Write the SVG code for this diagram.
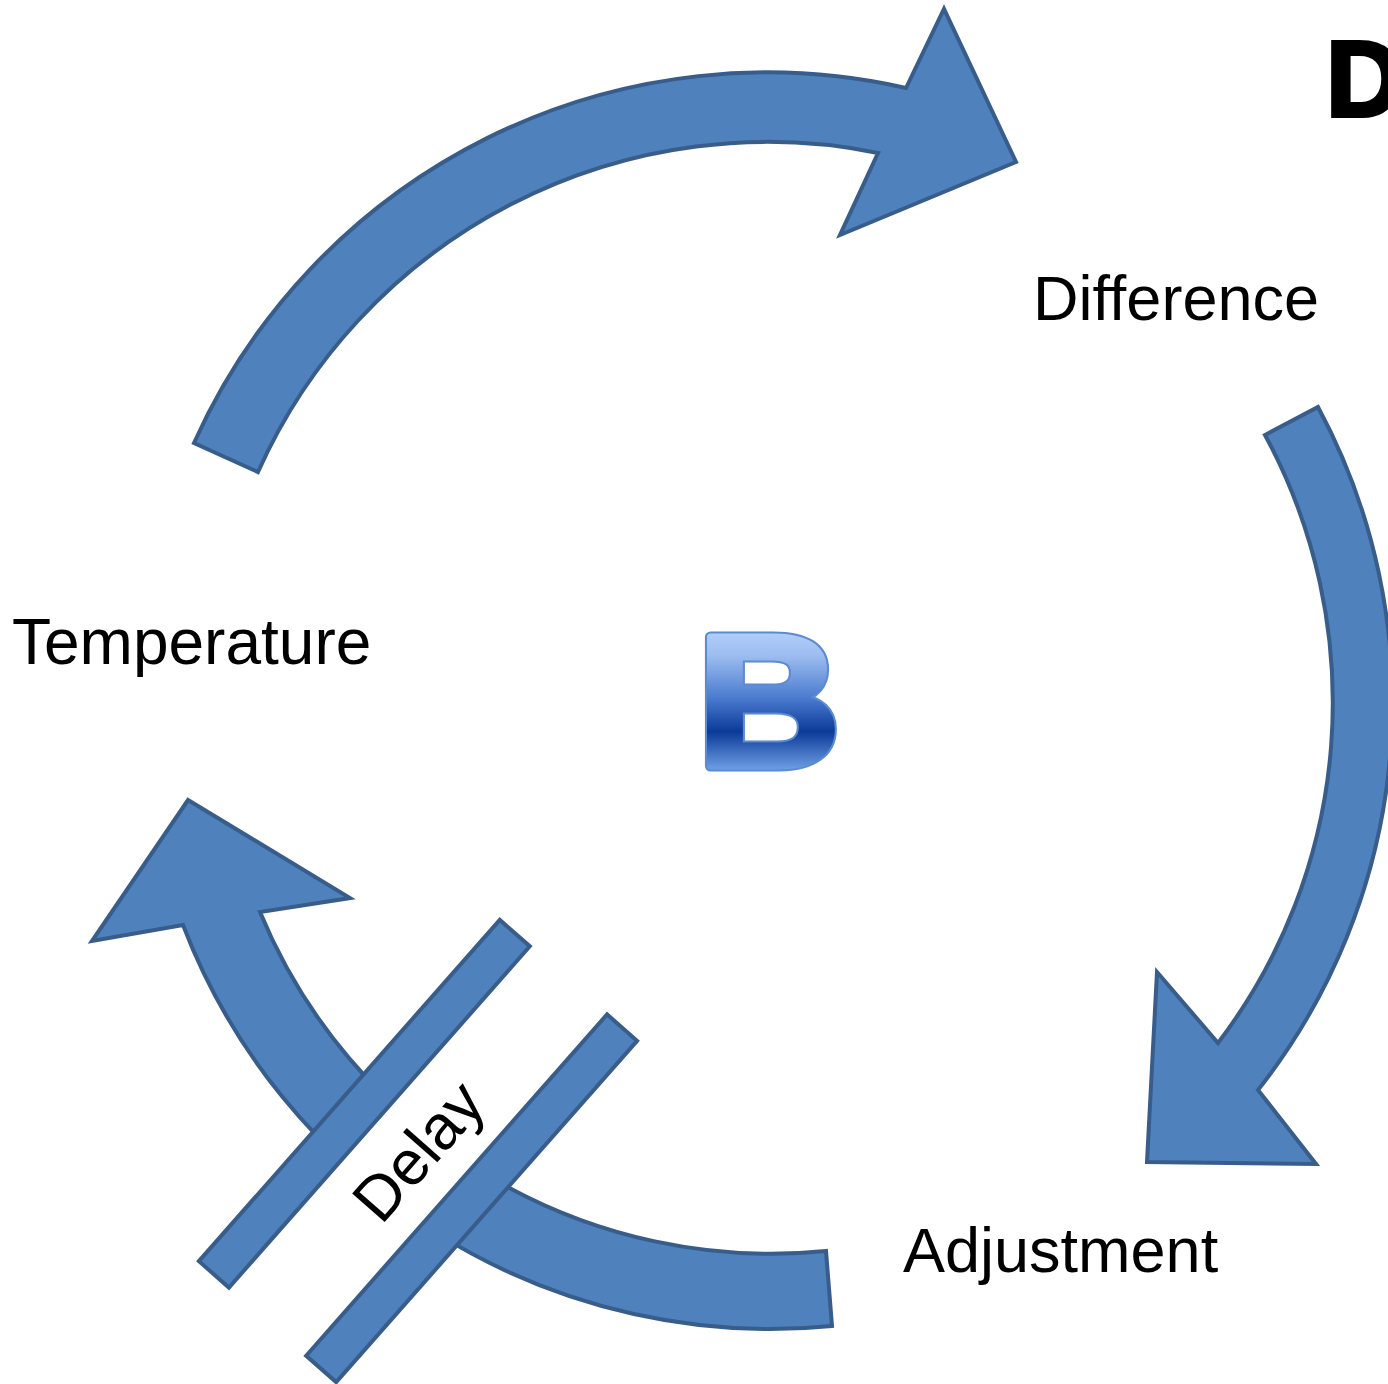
<svg xmlns="http://www.w3.org/2000/svg" width="1388" height="1384" viewBox="0 0 1388 1384">
<defs>
<style>
.arrow{fill:#4f81bd;stroke:#385d8a;stroke-width:4;stroke-linejoin:miter}
.lbl{font-family:"Liberation Sans",Arial,sans-serif;font-size:63px;fill:#000}
.bigb{font-family:"Liberation Sans",Arial,sans-serif;font-weight:bold;font-size:188px;stroke-linejoin:round}
</style>
<linearGradient id="bgrad" gradientUnits="userSpaceOnUse" x1="0" y1="628" x2="0" y2="768">
<stop offset="0" stop-color="#b6d0fb"/>
<stop offset="0.2" stop-color="#9cbcf0"/>
<stop offset="0.5" stop-color="#4a7bcf"/>
<stop offset="0.74" stop-color="#0b3a99"/>
<stop offset="1" stop-color="#6a9ae0"/>
</linearGradient>
</defs>
<rect width="1388" height="1384" fill="#fff"/>
<g id="connectors">
<path id="arrow-top" class="arrow" d="M194,443 A628,628 0 0 1 906,88 L944,9 L1016,162 L840,235 L878,153 A558,558 0 0 0 258,472 Z"/>
<path id="arrow-right" class="arrow" d="M1318,407 A625,625 0 0 1 1258,1090 L1316,1164 L1147,1162 L1157,972 L1218,1043 A562,562 0 0 0 1265,435 Z"/>
<path id="arrow-bottom" class="arrow" d="M832,1326 A629,629 0 0 1 183,925 L92,941 L188,800 L350,898 L260,912 A553,553 0 0 0 826,1251 Z"/>
<g id="delay" transform="translate(418,1151) rotate(-48.6)">
<rect x="-200" y="-72" width="400" height="144" fill="#fff"/>
<rect class="arrow" x="-227.5" y="-91.5" width="455" height="40"/>
<rect class="arrow" x="-227.5" y="51.5" width="455" height="40"/>
<text class="lbl" x="0" y="22" text-anchor="middle">Delay</text>
</g>
</g>
<g id="node-temperature"><text class="lbl" x="12" y="664" font-size="64" style="font-size:64px">Temperature</text></g>
<g id="node-difference"><text class="lbl" x="1033" y="320">Difference</text></g>
<g id="node-adjustment"><text class="lbl" x="903" y="1272">Adjustment</text></g>
<g id="node-b" transform="translate(706,0) scale(1.05,1) translate(-706,0)">
<text class="bigb" x="698" y="766" fill="#5b8bd0" stroke="#5b8bd0" stroke-width="11">B</text>
<text class="bigb" x="698" y="766" fill="url(#bgrad)" stroke="url(#bgrad)" stroke-width="7">B</text>
</g>
<g id="node-d"><text x="1326" y="116" font-family="Liberation Sans,Arial,sans-serif" font-weight="bold" font-size="107" fill="#000" stroke="#000" stroke-width="4">D</text></g>
</svg>
